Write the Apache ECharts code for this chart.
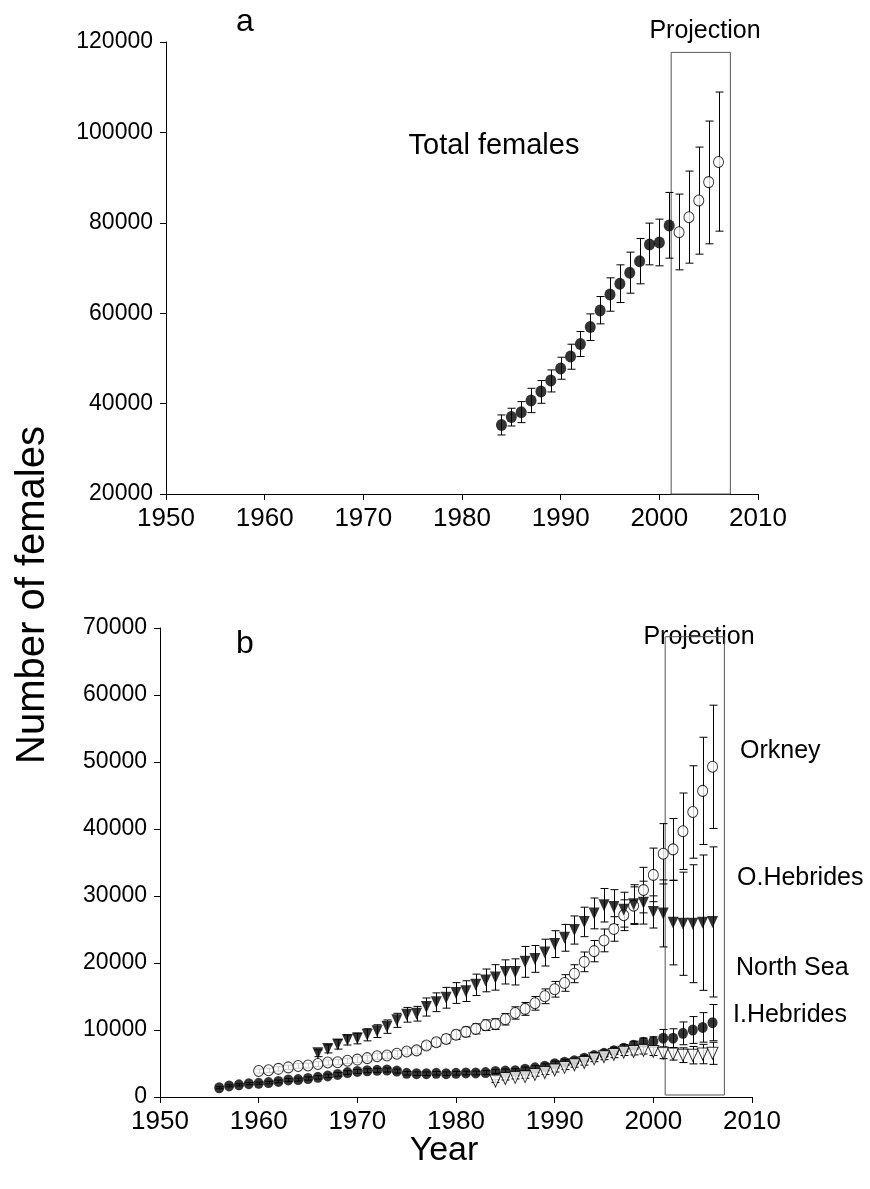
<!DOCTYPE html>
<html>
<head>
<meta charset="utf-8">
<script src="https://cdn.jsdelivr.net/npm/echarts@6/dist/echarts.min.js"></script>
<style>
html,body{margin:0;padding:0;background:#fff;}
#chart{width:870px;height:1189px;}
</style>
</head>
<body>
<div id="chart"></div>
<script>
// ---------- Panel a: total females ----------
const yearsA = [1984,1985,1986,1987,1988,1989,1990,1991,1992,1993,1994,1995,1996,1997,1998,1999,2000,2001,2002,2003,2004,2005,2006];
const totalMean = [35280,37050,38080,40660,42660,45090,47750,50410,53210,56970,60590,64130,66490,68930,71510,75200,75650,79410,77930,81250,84940,89000,93430];
const totalLow  = [33060,35050,35790,38000,40070,42580,45390,47600,50420,53950,57640,60440,62360,64430,66500,70700,70480,72180,69590,71070,73060,75350,78150];
const totalHigh = [37490,38970,40440,43390,45090,47450,50260,53140,55940,59850,63690,67820,70700,73510,76530,79930,80810,86720,86350,91440,96750,102510,108930];
const firstProjectionYear = 2002;

// ---------- Panel b: regions ----------
const yearsNorthSea = [1956,1957,1958,1959,1960,1961,1962,1963,1964,1965,1966,1967,1968,1969,1970,1971,1972,1973,1974,1975,1976,1977,1978,1979,1980,1981,1982,1983,1984,1985,1986,1987,1988,1989,1990,1991,1992,1993,1994,1995,1996,1997,1998,1999,2000,2001,2002,2003,2004,2005,2006];
const northSea = [1380,1660,1820,1990,2040,2150,2320,2540,2600,2760,2930,3150,3370,3650,3810,3920,3980,4030,3870,3540,3480,3480,3540,3480,3540,3590,3590,3650,3810,3870,3920,4140,4360,4590,4970,5190,5410,5800,6190,6520,6910,7290,7730,8180,8290,8780,8780,9500,10000,10390,11100];
const northSeaErr = [150,150,160,170,180,190,200,210,220,230,240,250,260,280,290,300,300,300,290,270,260,260,270,260,270,270,270,280,290,290,300,320,330,350,380,400,410,440,470,500,520,550,590,620,700,1300,1400,1700,2000,2200,2700];

const yearsOrkney = [1960,1961,1962,1963,1964,1965,1966,1967,1968,1969,1970,1971,1972,1973,1974,1975,1976,1977,1978,1979,1980,1981,1982,1983,1984,1985,1986,1987,1988,1989,1990,1991,1992,1993,1994,1995,1996,1997,1998,1999,2000,2001,2002,2003,2004,2005,2006];
const orkney = [3870,3980,4200,4420,4640,4700,4920,5140,5190,5410,5580,5800,6080,6190,6460,6800,6960,7680,8180,8670,9280,9720,10170,10720,10880,11600,12540,13150,13980,15030,16080,17020,18400,20170,21770,23370,25080,27130,28560,30880,33150,36300,36960,39670,42540,45690,49280];
const orkneyErr = [300,300,320,330,340,350,360,380,380,400,410,430,450,460,480,500,520,560,600,640,680,720,750,790,800,850,920,960,1020,1100,1170,1240,1340,1470,1590,1700,1830,2300,2800,3400,4000,4500,4600,5700,6900,8000,9200];

const yearsOHebrides = [1966,1967,1968,1969,1970,1971,1972,1973,1974,1975,1976,1977,1978,1979,1980,1981,1982,1983,1984,1985,1986,1987,1988,1989,1990,1991,1992,1993,1994,1995,1996,1997,1998,1999,2000,2001,2002,2003,2004,2005,2006];
const oHebrides = [6520,7180,7850,8510,8730,9280,9830,10500,11440,12270,12430,13430,14140,14810,15520,15800,16740,17400,17850,18670,18670,20170,20610,21550,22820,23760,24920,26130,27400,28620,28340,27960,28780,29010,27620,27400,26020,25860,25860,26020,26130];
const oHebridesErr = [500,600,700,750,800,900,950,1000,1050,1100,1100,1350,1400,1550,1550,1550,1600,1700,1900,1800,1950,2300,2000,2000,2000,2000,2100,2200,2300,2500,2600,2600,2900,3200,2400,5000,6300,7700,8800,10100,11200];

const yearsIHebrides = [1984,1985,1986,1987,1988,1989,1990,1991,1992,1993,1994,1995,1996,1997,1998,1999,2000,2001,2002,2003,2004,2005,2006];
const iHebrides = [2380,2760,2930,3040,3370,3650,4030,4420,4810,5140,5690,6020,6350,6690,6800,6960,6800,6520,6410,6240,6240,6410,6520];
const iHebridesErr = [200,220,230,240,260,280,300,330,360,380,420,450,480,500,520,540,600,800,900,1100,1300,1450,1650];

// Projection windows (data units)
const projBoxA = {x0: 2001.2, x1: 2007.2, y0: 20000, y1: 117700};
const projBoxB = {x0: 2001.2, x1: 2007.2, y0: 300, y1: 68700};

// Axis ticks
const xTicks = {min: 1950, max: 2010, interval: 10};
const yTicksA = {min: 20000, max: 120000, interval: 20000};
const yTicksB = {min: 0, max: 70000, interval: 10000};

// ---------- helpers ----------
const FONT = '"Liberation Sans", Arial, sans-serif';
function errRender(capHalf) {
  return function (params, api) {
    const x = api.value(0), lo = api.value(1), hi = api.value(2);
    const p1 = api.coord([x, lo]), p2 = api.coord([x, hi]);
    const xx = Math.round(p1[0]) + 0.5;
    const st = {stroke: '#000', lineWidth: 1, fill: null};
    return {type: 'group', children: [
      {type: 'line', shape: {x1: xx, y1: p1[1], x2: xx, y2: p2[1]}, style: st},
      {type: 'line', shape: {x1: xx - capHalf, y1: p1[1], x2: xx + capHalf, y2: p1[1]}, style: st},
      {type: 'line', shape: {x1: xx - capHalf, y1: p2[1], x2: xx + capHalf, y2: p2[1]}, style: st}
    ]};
  };
}
function errData(years, mean, errOrLow, high) {
  return years.map((y, i) => high ? [y, errOrLow[i], high[i]] : [y, mean[i] - errOrLow[i], mean[i] + errOrLow[i]]);
}
function pts(years, vals) { return years.map((y, i) => [y, vals[i]]); }
function axisX(grid) {
  return {type: 'value', gridIndex: grid, min: xTicks.min, max: xTicks.max, interval: xTicks.interval,
    axisLine: {show: true, onZero: false, lineStyle: {color: '#000', width: 1}},
    axisTick: {show: true, length: 6, lineStyle: {color: '#000'}},
    splitLine: {show: false},
    axisLabel: {color: '#000', fontSize: 26, fontFamily: FONT, margin: 12, formatter: v => String(v)}};
}
function axisY(grid, t) {
  return {type: 'value', gridIndex: grid, min: t.min, max: t.max, interval: t.interval,
    axisLine: {show: true, lineStyle: {color: '#000', width: 1}},
    axisTick: {show: true, length: 6, lineStyle: {color: '#000'}},
    splitLine: {show: false},
    axisLabel: {color: '#000', fontSize: 23, fontFamily: FONT, margin: 13, formatter: v => String(v)}};
}
function boxArea(b) {
  return {silent: true, itemStyle: {color: 'rgba(0,0,0,0)', borderColor: '#555', borderWidth: 1},
    data: [[{coord: [b.x0, b.y0]}, {coord: [b.x1, b.y1]}]]};
}

const histIdx = yearsA.map((y, i) => i).filter(i => yearsA[i] < firstProjectionYear);
const projIdx = yearsA.map((y, i) => i).filter(i => yearsA[i] >= firstProjectionYear);

const filledCircle = {color: '#000'};
const openMark = {color: '#fff', borderColor: '#000', borderWidth: 1};

const option = {
  animation: false,
  backgroundColor: '#fff',
  grid: [
    {left: 166, top: 42, width: 592, height: 452},
    {left: 160, top: 628, width: 592, height: 469}
  ],
  xAxis: [axisX(0), axisX(1)],
  yAxis: [axisY(0, yTicksA), axisY(1, yTicksB)],
  series: [
    // panel a
    {type: 'custom', xAxisIndex: 0, yAxisIndex: 0, renderItem: errRender(4), silent: true,
     data: errData(yearsA, totalMean, totalLow, totalHigh), markArea: boxArea(projBoxA)},
    {type: 'scatter', xAxisIndex: 0, yAxisIndex: 0, symbol: 'circle', symbolSize: [11, 12], silent: true,
     itemStyle: filledCircle, data: histIdx.map(i => [yearsA[i], totalMean[i]])},
    {type: 'scatter', xAxisIndex: 0, yAxisIndex: 0, symbol: 'circle', symbolSize: [10, 11], silent: true,
     itemStyle: openMark, data: projIdx.map(i => [yearsA[i], totalMean[i]])},
    // panel b error bars
    {type: 'custom', xAxisIndex: 1, yAxisIndex: 1, renderItem: errRender(4), silent: true,
     data: errData(yearsOrkney, orkney, orkneyErr), markArea: boxArea(projBoxB)},
    {type: 'custom', xAxisIndex: 1, yAxisIndex: 1, renderItem: errRender(4), silent: true,
     data: errData(yearsOHebrides, oHebrides, oHebridesErr)},
    {type: 'custom', xAxisIndex: 1, yAxisIndex: 1, renderItem: errRender(4), silent: true,
     data: errData(yearsNorthSea, northSea, northSeaErr)},
    {type: 'custom', xAxisIndex: 1, yAxisIndex: 1, renderItem: errRender(4), silent: true,
     data: errData(yearsIHebrides, iHebrides, iHebridesErr)},
    // panel b markers
    {type: 'scatter', xAxisIndex: 1, yAxisIndex: 1, symbol: 'circle', symbolSize: [10, 11], silent: true,
     itemStyle: openMark, data: pts(yearsOrkney, orkney)},
    {type: 'scatter', xAxisIndex: 1, yAxisIndex: 1, symbol: 'triangle', symbolRotate: 180, symbolSize: [11, 12], silent: true,
     itemStyle: {color: '#000'}, data: pts(yearsOHebrides, oHebrides)},
    {type: 'scatter', xAxisIndex: 1, yAxisIndex: 1, symbol: 'circle', symbolSize: [10, 11], silent: true,
     itemStyle: filledCircle, data: pts(yearsNorthSea, northSea)},
    {type: 'scatter', xAxisIndex: 1, yAxisIndex: 1, symbol: 'triangle', symbolRotate: 180, symbolSize: [11, 12], silent: true,
     itemStyle: openMark, data: pts(yearsIHebrides, iHebrides)}
  ],
  graphic: [
    {type: 'text', x: 245, y: 22, style: {text: 'a', font: '32px ' + FONT, fill: '#000', align: 'center', verticalAlign: 'middle'}},
    {type: 'text', x: 705, y: 31, style: {text: 'Projection', font: '25px ' + FONT, fill: '#000', align: 'center', verticalAlign: 'middle'}},
    {type: 'text', x: 494, y: 146, style: {text: 'Total females', font: '29px ' + FONT, fill: '#000', align: 'center', verticalAlign: 'middle'}},
    {type: 'text', x: 245, y: 644, style: {text: 'b', font: '32px ' + FONT, fill: '#000', align: 'center', verticalAlign: 'middle'}},
    {type: 'text', x: 699, y: 637, style: {text: 'Projection', font: '25px ' + FONT, fill: '#000', align: 'center', verticalAlign: 'middle'}},
    {type: 'text', x: 740, y: 751, style: {text: 'Orkney', font: '25px ' + FONT, fill: '#000', align: 'left', verticalAlign: 'middle'}},
    {type: 'text', x: 737, y: 878, style: {text: 'O.Hebrides', font: '25px ' + FONT, fill: '#000', align: 'left', verticalAlign: 'middle'}},
    {type: 'text', x: 736, y: 968, style: {text: 'North Sea', font: '25px ' + FONT, fill: '#000', align: 'left', verticalAlign: 'middle'}},
    {type: 'text', x: 733, y: 1015, style: {text: 'I.Hebrides', font: '25px ' + FONT, fill: '#000', align: 'left', verticalAlign: 'middle'}},
    {type: 'text', x: 444, y: 1151, style: {text: 'Year', font: '34px ' + FONT, fill: '#000', align: 'center', verticalAlign: 'middle'}},
    {type: 'text', x: 33, y: 595, rotation: Math.PI / 2, style: {text: 'Number of females', font: '40px ' + FONT, fill: '#000', align: 'center', verticalAlign: 'middle'}}
  ]
};
const chart = echarts.init(document.getElementById('chart'), null, {renderer: 'canvas'});
chart.setOption(option);
</script>
</body>
</html>
